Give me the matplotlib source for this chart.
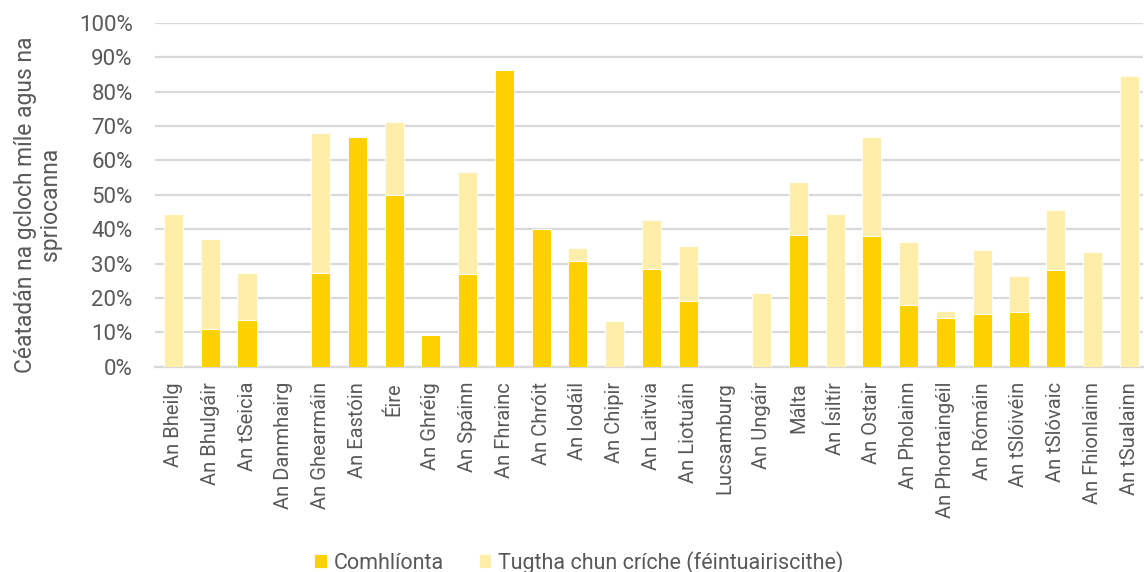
import matplotlib
matplotlib.use("Agg")
import matplotlib.pyplot as plt
import numpy as np
from matplotlib.ticker import PercentFormatter

# EU member states (Irish names) and share of milestones/targets
countries = [
    "An Bheilg", "An Bhulgáir", "An tSeicia", "An Danmhairg", "An Ghearmáin",
    "An Eastóin", "Éire", "An Ghréig", "An Spáinn", "An Fhrainc", "An Chróit",
    "An Iodáil", "An Chipir", "An Laitvia", "An Liotuáin", "Lucsamburg",
    "An Ungáir", "Málta", "An Ísiltír", "An Ostair", "An Pholainn",
    "An Phortaingéil", "An Rómáin", "An tSlóivéin", "An tSlóvaic",
    "An Fhionlainn", "An tSualainn",
]
# fulfilled share (%)
complete = [0.0, 10.9, 13.6, 0.0, 27.2, 66.7, 50.0, 9.1, 27.0, 86.2, 40.0,
            30.6, 0.0, 28.5, 19.2, 0.0, 0.0, 38.4, 0.0, 38.1, 18.0,
            14.2, 15.2, 15.8, 28.2, 0.0, 0.0]
# total incl. self-reported completed (%)
total = [44.4, 37.0, 27.2, 0.0, 68.1, 66.7, 71.3, 9.1, 56.6, 86.2, 40.0,
         34.5, 13.3, 42.7, 35.1, 0.0, 21.4, 53.8, 44.4, 66.7, 36.2,
         16.2, 33.9, 26.4, 45.5, 33.3, 84.5]

labels = ["Comhlíonta", "Tugtha chun críche (féintuairiscithe)"]
colors = ["#FFD100", "#FFEEAA"]
text_col = "#595959"

plt.rcParams["font.family"] = ["Roboto", "DejaVu Sans"]

fig = plt.figure(figsize=(11.44, 5.72), dpi=100)
ax = fig.add_axes([0.1355, 0.359, 0.8635, 0.601])

x = np.arange(len(countries))
done = np.array(complete)
rest = np.array(total) - done

ax.bar(x, done, width=0.52, color=colors[0], edgecolor="white",
       linewidth=0.6, label=labels[0], zorder=3)
ax.bar(x, rest, bottom=done, width=0.52, color=colors[1], edgecolor="white",
       linewidth=0.6, label=labels[1], zorder=3)

ax.set_ylim(0, 100)
ax.set_xlim(-0.503, 26.37)
ax.set_yticks(np.arange(0, 101, 10))
ax.yaxis.set_major_formatter(PercentFormatter(decimals=0))
ax.grid(axis="y", color="#D9D9D9", linewidth=1.6, zorder=0)
ax.set_axisbelow(True)

for side in ["top", "right", "left"]:
    ax.spines[side].set_visible(False)
ax.spines["bottom"].set_color("#D9D9D9")
ax.spines["bottom"].set_linewidth(1.6)

ax.set_xticks(x)
ax.set_xticklabels(countries, rotation=90, fontsize=14.5, color=text_col)
ax.tick_params(axis="x", length=0, pad=11)
ax.tick_params(axis="y", length=0, pad=16, labelsize=16, labelcolor=text_col)

fig.text(0.033, 0.642, "Céatadán na gcloch míle agus na\nspriocanna",
         rotation=90, ha="center", va="center", multialignment="center",
         fontsize=16.5, color=text_col, linespacing=1.1)

fig.legend(loc="center", bbox_to_anchor=(0.506, 0.017), ncol=2,
           frameon=False, fontsize=15.5, labelcolor=text_col,
           handlelength=0.6, handleheight=0.6, handletextpad=0.3,
           columnspacing=1.6)

fig.savefig("out.png", dpi=100)
